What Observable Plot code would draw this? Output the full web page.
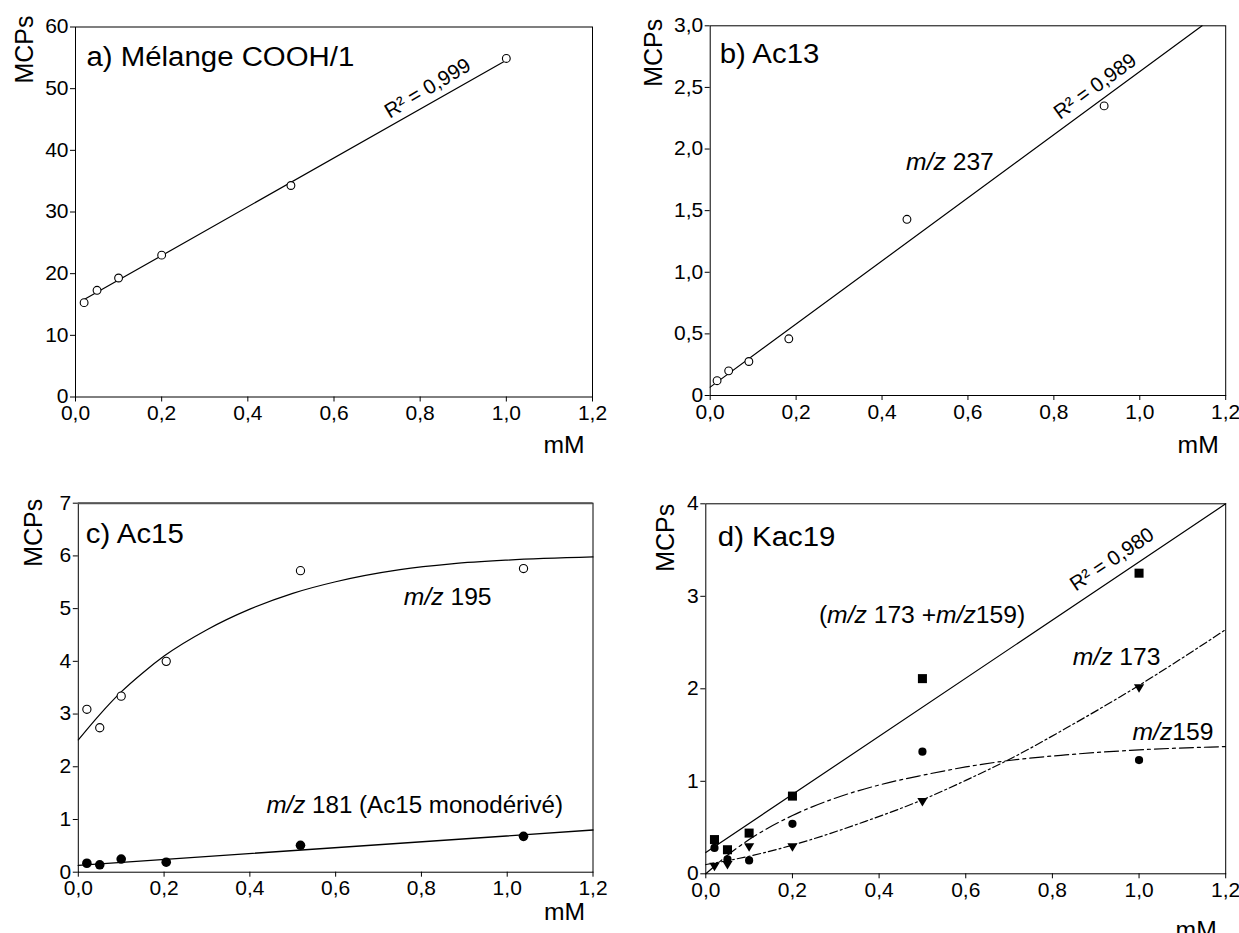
<!DOCTYPE html>
<html><head><meta charset="utf-8">
<script src="https://cdn.jsdelivr.net/npm/d3@7"></script>
<script src="https://cdn.jsdelivr.net/npm/@observablehq/plot@0.6"></script>
<style>
body{margin:0;background:#fff;}
#wrap{position:relative;width:1239px;height:933px;overflow:hidden;background:#fff;}
#wrap svg{position:absolute;overflow:visible;}
</style></head><body><div id="wrap"></div>
<script>
// ---------- data ----------
const xTicks = [0, 0.2, 0.4, 0.6, 0.8, 1.0, 1.2];

// a) Mélange COOH/1
const aX = [0.02, 0.05, 0.1, 0.2, 0.5, 1.0];
const aY = [15.3, 17.3, 19.3, 23.0, 34.3, 54.9];
const aFitX = [0.02, 1.0];
const aFitY = [15.8, 54.6];
const aYTicks = [0, 10, 20, 30, 40, 50, 60];

// b) Ac13 (m/z 237)
const bX = [0.016, 0.043, 0.09, 0.183, 0.458, 0.917];
const bY = [0.12, 0.20, 0.276, 0.46, 1.43, 2.35];
const bFitX = [0, 1.145];
const bFitY = [0.068, 3.0];
const bYTicks = [0, 0.5, 1.0, 1.5, 2.0, 2.5, 3.0];

// c) Ac15
const cX = [0.02, 0.05, 0.1, 0.205, 0.518, 1.038];
const c195 = [3.09, 2.74, 3.34, 4.0, 5.72, 5.76];
const c181 = [0.17, 0.14, 0.25, 0.19, 0.51, 0.68];
const c195FitX = [0, 0.05, 0.1, 0.15, 0.2, 0.3, 0.4, 0.5, 0.6, 0.75, 0.87, 1.0, 1.2];
const c195FitY = [2.51, 2.99, 3.42, 3.78, 4.1, 4.6, 4.99, 5.29, 5.51, 5.74, 5.85, 5.92, 5.98];
const c181FitX = [0, 1.2];
const c181FitY = [0.13, 0.8];
const cYTicks = [0, 1, 2, 3, 4, 5, 6, 7];

// d) Kac19
const dX = [0.02, 0.05, 0.1, 0.2, 0.5, 1.0];
const dSum = [0.37, 0.26, 0.44, 0.84, 2.11, 3.25];
const d159 = [0.28, 0.155, 0.145, 0.54, 1.32, 1.23];
const d173 = [0.08, 0.10, 0.29, 0.29, 0.78, 2.01];
const dSumFitX = [0, 1.2];
const dSumFitY = [0.23, 4.0];
const d159FitX = [0, 0.05, 0.1, 0.2, 0.3, 0.4, 0.5, 0.6, 0.7, 0.83, 0.98, 1.2];
const d159FitY = [0, 0.2, 0.37, 0.63, 0.82, 0.96, 1.065, 1.155, 1.225, 1.285, 1.335, 1.375];
const d173FitX = [0, 0.1, 0.2, 0.37, 0.5, 0.6, 0.71, 0.83, 0.98, 1.2];
const d173FitY = [0.1, 0.19, 0.31, 0.57, 0.8, 1.01, 1.26, 1.57, 1.98, 2.64];
const dYTicks = [0, 1, 2, 3, 4];

// ---------- helpers ----------
const FONT = '"Liberation Sans", Arial, Helvetica, sans-serif';
const STRETCH = 1.05;
const comma1 = d => d.toFixed(1).replace(".", ",");
const zip = (xs, ys) => xs.map((x, i) => ({x, y: ys[i]}));
const triDown = {
  draw(ctx, size) {
    const r = Math.sqrt(size / Math.PI);
    ctx.moveTo(-r, -0.72 * r);
    ctx.lineTo(r, -0.72 * r);
    ctx.lineTo(0, 0.95 * r);
    ctx.closePath();
  }
};

function labels(title, t, m, mm) {
  return [
    Plot.text([title], {frameAnchor: "top-left", dx: t[0], dy: t[1], textAnchor: "start", lineAnchor: "middle", fontSize: 28}),
    Plot.text(["MCPs"], {frameAnchor: "top-left", dx: m[0], dy: m[1], rotate: -90, textAnchor: "end", lineAnchor: "middle", fontSize: 25}),
    Plot.text(["mM"], {frameAnchor: "bottom-right", dx: mm[0], dy: mm[1], textAnchor: "end", lineAnchor: "middle", fontSize: 23.5})
  ];
}

function panel({left, top, width, height, margins, yDomain, yTicks, yFormat, marks}) {
  const svg = Plot.plot({
    width, height,
    marginLeft: margins[0], marginRight: margins[1], marginTop: margins[2], marginBottom: margins[3],
    style: {fontFamily: FONT, fontSize: "20px", color: "#000", background: "transparent", overflow: "visible"},
    x: {domain: [0, 1.2], ticks: xTicks, tickFormat: comma1, label: null, tickSize: 5, tickPadding: 4},
    y: {domain: yDomain, ticks: yTicks, tickFormat: yFormat, label: null, tickSize: 5, tickPadding: 2},
    marks: [Plot.frame({stroke: "#000", strokeWidth: 1}), ...marks]
  });
  svg.style.left = left + "px";
  svg.style.top = top + "px";
  svg.querySelectorAll("text").forEach(t => {
    const s = t.textContent;
    if (s.includes("m/z")) {
      t.textContent = "";
      s.split(/(m\/z)/).forEach(part => {
        if (!part) return;
        const ts = document.createElementNS("http://www.w3.org/2000/svg", "tspan");
        ts.textContent = part;
        if (part === "m/z") ts.setAttribute("font-style", "italic");
        t.appendChild(ts);
      });
    }
    const tr = t.getAttribute("transform");
    if (tr && !/rotate/.test(tr)) t.setAttribute("transform", tr + ` scale(${STRETCH},1)`);
  });
  document.getElementById("wrap").appendChild(svg);
}

// ---------- panel a ----------
panel({
  left: 0, top: 0, width: 620, height: 466, margins: [75, 28, 26.5, 69.5],
  yDomain: [0, 60], yTicks: aYTicks, yFormat: d => String(d),
  marks: [
    Plot.line(zip(aFitX, aFitY), {x: "x", y: "y", stroke: "#000", strokeWidth: 1.2}),
    Plot.dot(zip(aX, aY), {x: "x", y: "y", r: 3.9, stroke: "#000", fill: "#fff", strokeWidth: 1.1}),
    Plot.text([{x: 0.825, y: 47.7, t: "R² = 0,999"}], {x: "x", y: "y", text: "t", rotate: -31, textAnchor: "middle", lineAnchor: "bottom", dy: -9, fontSize: 20.5}),
    ...labels("a) Mélange COOH/1", [11, 30.5], [-51, -11.5], [-8, 48.5])
  ]
});

// ---------- panel b ----------
panel({
  left: 620, top: 0, width: 619, height: 466, margins: [89.7, 13.8, 25.3, 71],
  yDomain: [0, 3], yTicks: bYTicks, yFormat: d => d === 0 ? "0" : comma1(d),
  marks: [
    Plot.line(zip(bFitX, bFitY), {x: "x", y: "y", stroke: "#000", strokeWidth: 1.2}),
    Plot.dot(zip(bX, bY), {x: "x", y: "y", r: 3.9, stroke: "#000", fill: "#fff", strokeWidth: 1.1}),
    Plot.text([{x: 0.905, y: 2.385, t: "R² = 0,989"}], {x: "x", y: "y", text: "t", rotate: -36, textAnchor: "middle", lineAnchor: "bottom", dy: -10, fontSize: 20.5}),
    Plot.text([{x: 0.456, y: 1.893, t: "m/z 237"}], {x: "x", y: "y", text: "t", textAnchor: "start", lineAnchor: "middle", fontSize: 23.5}),
    ...labels("b) Ac13", [9.5, 28.7], [-56, -7], [-7, 50])
  ]
});

// ---------- panel c ----------
panel({
  left: 0, top: 466, width: 620, height: 467, margins: [77.8, 27.5, 36.7, 61.3],
  yDomain: [0, 7], yTicks: cYTicks, yFormat: d => String(d),
  marks: [
    Plot.ruleY([d3.max(cYTicks)], {stroke: "#555", strokeWidth: 2}),
    Plot.line(zip(c195FitX, c195FitY), {x: "x", y: "y", curve: "monotone-x", stroke: "#000", strokeWidth: 1.2}),
    Plot.line(zip(c181FitX, c181FitY), {x: "x", y: "y", stroke: "#000", strokeWidth: 1.4}),
    Plot.dot(zip(cX, c195), {x: "x", y: "y", r: 4.1, stroke: "#000", fill: "#fff", strokeWidth: 1.1}),
    Plot.dot(zip(cX, c181), {x: "x", y: "y", r: 4.8, fill: "#000", stroke: "none"}),
    Plot.text([{x: 0.759, y: 5.205, t: "m/z 195"}], {x: "x", y: "y", text: "t", textAnchor: "start", lineAnchor: "middle", fontSize: 23.5}),
    Plot.text([{x: 0.4386, y: 1.265, t: "m/z 181 (Ac15 monodérivé)"}], {x: "x", y: "y", text: "t", textAnchor: "start", lineAnchor: "middle", fontSize: 23}),
    ...labels("c) Ac15", [7.5, 30.6], [-44, -4.4], [-8, 40])
  ]
});

// ---------- panel d ----------
panel({
  left: 620, top: 466, width: 619, height: 467, margins: [85.3, 13.8, 37.3, 59.7],
  yDomain: [0, 4], yTicks: dYTicks, yFormat: d => String(d),
  marks: [
    Plot.line(zip(dSumFitX, dSumFitY), {x: "x", y: "y", stroke: "#000", strokeWidth: 1.2}),
    Plot.line(zip(d159FitX, d159FitY), {x: "x", y: "y", curve: "monotone-x", stroke: "#000", strokeWidth: 1.2, strokeDasharray: "14,4,3,4"}),
    Plot.line(zip(d173FitX, d173FitY), {x: "x", y: "y", curve: "monotone-x", stroke: "#000", strokeWidth: 1.2, strokeDasharray: "8,3,2,3"}),
    Plot.dot(zip(dX, dSum), {x: "x", y: "y", symbol: "square", r: 5.1, fill: "#000", stroke: "none"}),
    Plot.dot(zip(dX, d159), {x: "x", y: "y", r: 4.1, fill: "#000", stroke: "none"}),
    Plot.dot(zip(dX, d173), {x: "x", y: "y", symbol: triDown, r: 5.1, fill: "#000", stroke: "none"}),
    Plot.text([{x: 0.946, y: 3.21, t: "R² = 0,980"}], {x: "x", y: "y", text: "t", rotate: -34, textAnchor: "middle", lineAnchor: "bottom", dy: -12, fontSize: 20.5}),
    Plot.text([{x: 0.261, y: 2.79, t: "(m/z 173 +m/z159)"}], {x: "x", y: "y", text: "t", textAnchor: "start", lineAnchor: "middle", fontSize: 23.5}),
    Plot.text([{x: 0.847, y: 2.34, t: "m/z 173"}], {x: "x", y: "y", text: "t", textAnchor: "start", lineAnchor: "middle", fontSize: 23.5}),
    Plot.text([{x: 0.985, y: 1.53, t: "m/z159"}], {x: "x", y: "y", text: "t", textAnchor: "start", lineAnchor: "middle", fontSize: 23.5}),
    ...labels("d) Kac19", [12, 33.4], [-39.7, 0], [-9, 57])
  ]
});
</script></body></html>
